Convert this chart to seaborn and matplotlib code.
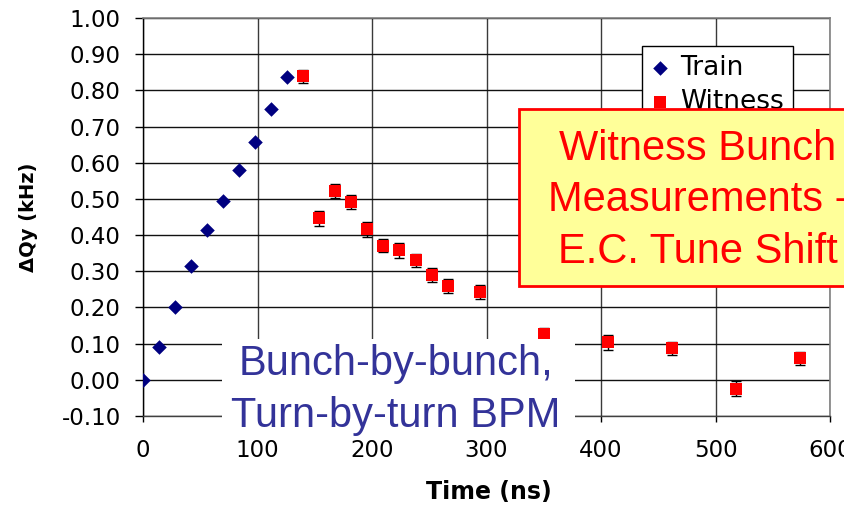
import matplotlib
matplotlib.use("Agg")
import matplotlib.pyplot as plt
from matplotlib.patches import Rectangle
import seaborn as sns
import pandas as pd

# ---- data ----
train_time = [0, 14, 28, 42, 56, 70, 84, 98, 112, 126]
train_dq = [0.000, 0.090, 0.200, 0.315, 0.415, 0.495, 0.580, 0.657, 0.748, 0.838]

witness_time = [140, 154, 168, 182, 196, 210, 224, 238, 252, 266, 294, 350, 406, 462, 518, 574]
witness_dq = [0.839, 0.446, 0.522, 0.492, 0.416, 0.371, 0.358, 0.331, 0.290, 0.260,
              0.242, 0.126, 0.104, 0.087, -0.024, 0.059]
witness_err = [0.018, 0.020, 0.020, 0.019, 0.020, 0.019, 0.021, 0.018, 0.020, 0.019,
               0.020, 0.016, 0.021, 0.018, 0.020, 0.019]

x_ticks = [0, 100, 200, 300, 400, 500, 600]
x_tick_labels = ["0", "100", "200", "300", "400", "500", "600"]
y_ticks = [-0.10, 0.00, 0.10, 0.20, 0.30, 0.40, 0.50, 0.60, 0.70, 0.80, 0.90, 1.00]
y_tick_labels = ["-0.10", "0.00", "0.10", "0.20", "0.30", "0.40", "0.50",
                 "0.60", "0.70", "0.80", "0.90", "1.00"]

series_names = ["Train", "Witness"]
x_label = "Time (ns)"
y_label = "ΔQy (kHz)"
box_lines = ["Witness Bunch", "Measurements -", "E.C. Tune Shift"]
note_lines = ["Bunch-by-bunch,", "Turn-by-turn BPM"]

train_df = pd.DataFrame({"Time": train_time, "dQ": train_dq})
witness_df = pd.DataFrame({"Time": witness_time, "dQ": witness_dq, "err": witness_err})

# ---- style ----
sns.set_theme(style="white")
plt.rcParams["font.family"] = ["DejaVu Sans"]
plt.rcParams["text.color"] = "black"

W, H = 844, 507
fig = plt.figure(figsize=(W / 100, H / 100), dpi=100)
fig.patch.set_facecolor("white")
ax = fig.add_axes([143 / W, 1 - 416 / H, 687 / W, 398 / H])

ax.set_xlim(0, 600)
ax.set_ylim(-0.1, 1.0)

# grid
ax.set_axisbelow(True)
ax.grid(True, axis="y", color="#111111", lw=1.0)
ax.grid(True, axis="x", color="#3a3a3a", lw=1.0)

# error bars then markers
ax.errorbar(witness_df["Time"], witness_df["dQ"], yerr=witness_df["err"], fmt="none",
            ecolor="black", elinewidth=1.0, capsize=3.6, capthick=1.0, zorder=2)
sns.scatterplot(data=train_df, x="Time", y="dQ", marker="D", s=55, color="#000080",
                linewidth=0, ax=ax, label=series_names[0], zorder=3)
sns.scatterplot(data=witness_df, x="Time", y="dQ", marker="s", s=81, color="#FF0000",
                linewidth=0, ax=ax, label=series_names[1], zorder=3)

# ticks
ax.set_xticks(x_ticks)
ax.set_xticklabels(x_tick_labels)
ax.set_yticks(y_ticks)
ax.set_yticklabels(y_tick_labels)
ax.tick_params(axis="y", left=True, direction="out", length=6, width=1, color="black",
               pad=10, labelsize=16.5, labelcolor="black")
ax.tick_params(axis="x", bottom=True, direction="out", length=4.5, width=1, color="black",
               pad=12, labelsize=16.5, labelcolor="black")

# spines
ax.spines["left"].set_color("black")
ax.spines["left"].set_linewidth(1.0)
ax.spines["bottom"].set_color("#404040")
ax.spines["bottom"].set_linewidth(1.0)
for s in ["top", "right"]:
    ax.spines[s].set_color("#808080")
    ax.spines[s].set_linewidth(1.2)

# axis labels
ax.set_xlabel(x_label, fontsize=17, fontweight="bold", color="black")
ax.xaxis.set_label_coords(0.503, -0.162)
ax.set_ylabel(y_label, fontsize=14, fontweight="bold", color="black")
ax.yaxis.set_label_coords(-0.153, 0.5)

# legend
leg = ax.legend(loc="upper left", bbox_to_anchor=(642 / W, 1 - 46 / H),
                bbox_transform=fig.transFigure, borderaxespad=0, fontsize=19,
                frameon=True, fancybox=False, framealpha=1, edgecolor="black",
                handlelength=0.7, handletextpad=0.4, borderpad=0.35, labelspacing=0.3,
                labelcolor="black")
leg.get_frame().set_linewidth(1.0)

# yellow annotation box
fig.add_artist(Rectangle((519 / W, 1 - 286 / H), (880 - 519) / W, 177 / H,
                         transform=fig.transFigure, facecolor="#FFFF99",
                         edgecolor="#FF0000", lw=2.0, zorder=5))
for line, base in zip(box_lines, [160, 211, 263]):
    fig.text(698 / W, 1 - base / H, line, ha="center", va="baseline", fontsize=30,
             color="#FF0000", family=["Liberation Sans", "DejaVu Sans"], zorder=6)

# white note box
fig.add_artist(Rectangle((222 / W, 1 - 432 / H), 353 / W, 93 / H,
                         transform=fig.transFigure, facecolor="white",
                         edgecolor="none", zorder=5))
for line, base in zip(note_lines, [375, 426.5]):
    fig.text(396 / W, 1 - base / H, line, ha="center", va="baseline", fontsize=30,
             color="#333399", family=["Liberation Sans", "DejaVu Sans"], zorder=6)

fig.savefig("out.png", dpi=100, facecolor="white")
